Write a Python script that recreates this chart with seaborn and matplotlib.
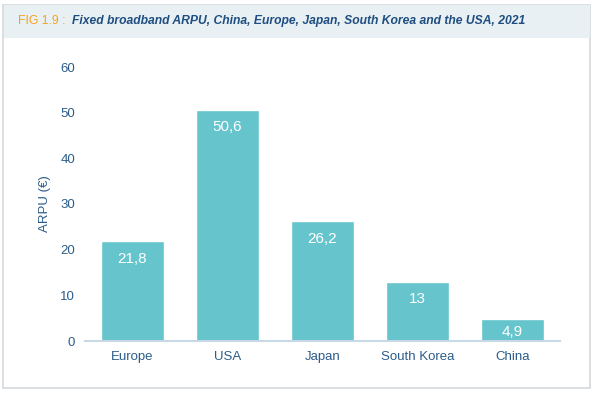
import matplotlib
matplotlib.use("Agg")
import matplotlib.pyplot as plt
import seaborn as sns
import pandas as pd
from matplotlib.patches import Rectangle

categories = ["Europe", "USA", "Japan", "South Korea", "China"]
values = [21.8, 50.6, 26.2, 13, 4.9]
value_labels = ["21,8", "50,6", "26,2", "13", "4,9"]
yticks = [0, 10, 20, 30, 40, 50, 60]

sns.set_theme(style="white")
plt.rcParams['font.family'] = ['Liberation Sans', 'DejaVu Sans']

BAR = "#66C4CD"
TXT = "#2B5C8A"

fig = plt.figure(figsize=(5.94, 3.93), dpi=100)
W, H = 594, 393
# outer border
fig.patches.append(Rectangle((3 / W, 5 / H), 587 / W, 383 / H, transform=fig.transFigure,
                             facecolor="white", edgecolor="#D5D9DC", linewidth=1.2, zorder=-10))
# header band
fig.patches.append(Rectangle((3.6 / W, (H - 38) / H), 586 / W, 32.5 / H, transform=fig.transFigure,
                             facecolor="#E9F0F4", edgecolor="none", zorder=-9))
fig.text(18 / W, 1 - 21 / H, "FIG 1.9 :", color="#F7A21A", fontsize=8.8,
         va="center", ha="left")
fig.text(72 / W, 1 - 21 / H, "Fixed broadband ARPU, China, Europe, Japan, South Korea and the USA, 2021",
         color="#1F4E80", fontsize=8.7, va="center", ha="left", fontweight="bold", style="italic")

ax = fig.add_axes([85 / W, 1 - 341 / H, 475 / W, (341 - 67) / H])
ax.set_zorder(1)
df = pd.DataFrame({"cat": categories, "val": values})
sns.barplot(data=df, x="cat", y="val", color=BAR, saturation=1, width=0.67, ax=ax)

ax.set_xlim(-0.5, 4.5)
ax.set_ylim(0, 60)
ax.set_yticks(yticks)
ax.set_yticklabels([str(t) for t in yticks])
for s in ["top", "right", "left"]:
    ax.spines[s].set_visible(False)
ax.spines["bottom"].set_color("#C8D8E4")
ax.spines["bottom"].set_linewidth(1.5)
ax.tick_params(axis="both", length=0, colors=TXT, labelsize=9.5)
ax.tick_params(axis="y", pad=7)
ax.tick_params(axis="x", pad=7)
ax.set_xlabel("")
ax.set_ylabel("ARPU (€)", color=TXT, fontsize=9.5, labelpad=7)
ax.grid(False)
ax.set_facecolor("none")

for i, (v, lab) in enumerate(zip(values, value_labels)):
    off = -12.5 if v > 8 else -9.5
    ax.annotate(lab, (i, v), xytext=(0, off), textcoords="offset points",
                ha="center", va="center", color="white", fontsize=11)

fig.savefig("out.png", dpi=100)
